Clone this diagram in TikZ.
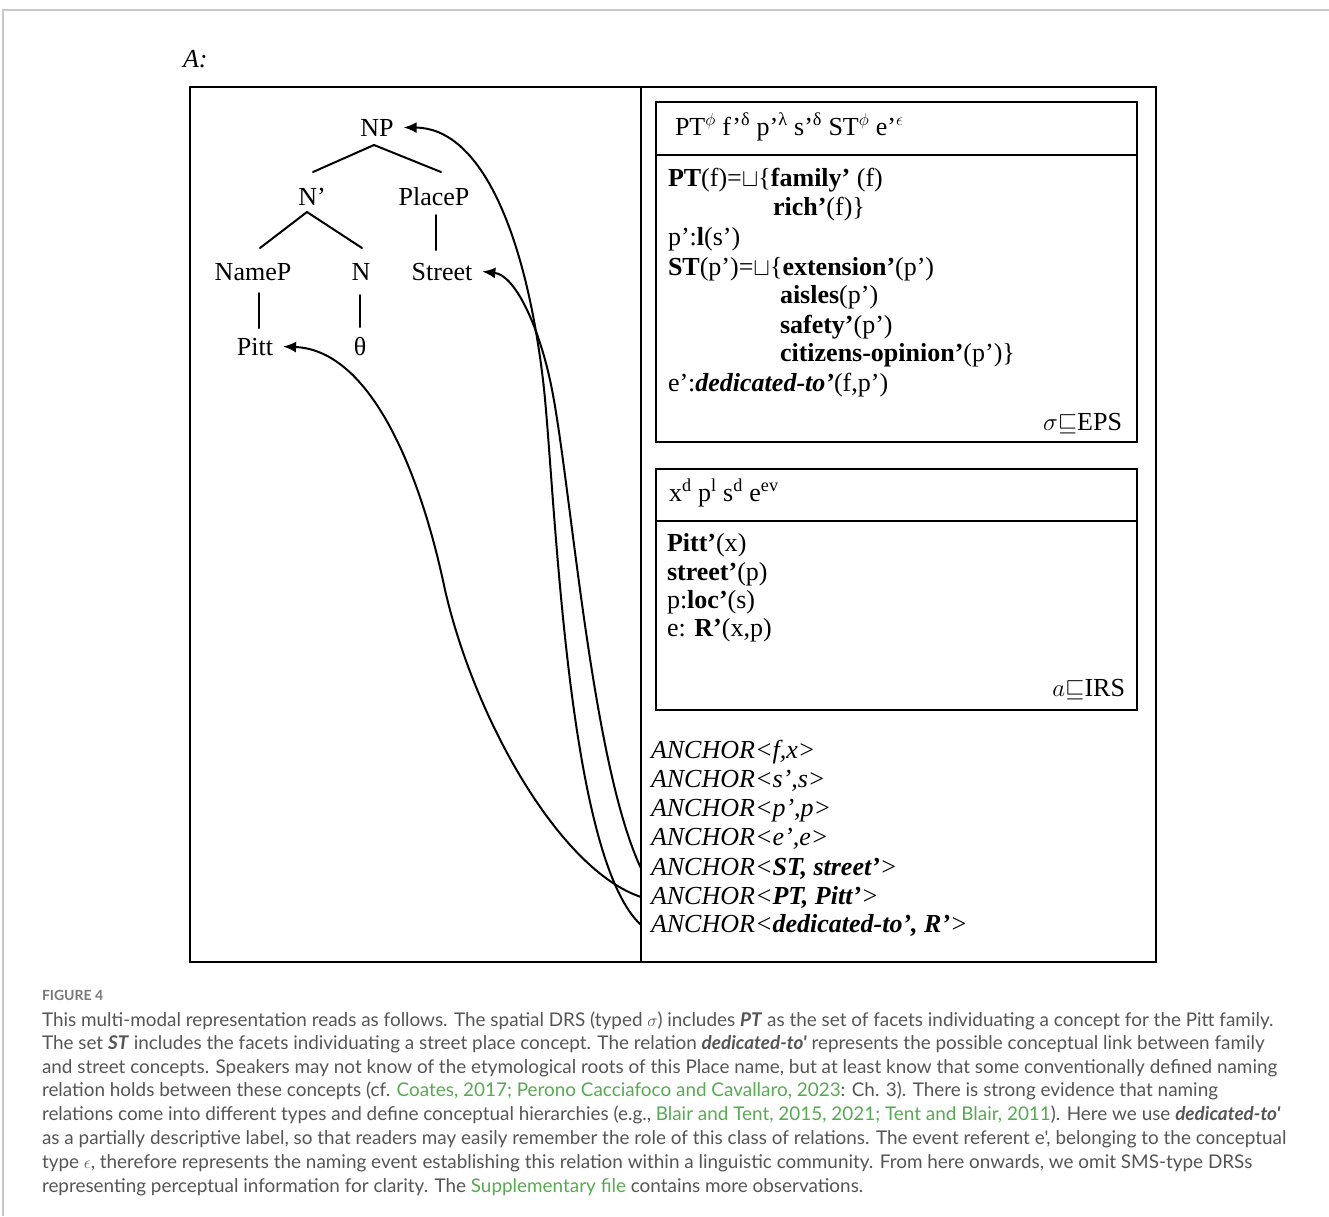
\documentclass[tikz,border=0pt]{standalone}
\usepackage{fontspec}
\setmainfont{Liberation Serif}
\newfontfamily\capfont{Lato}
\usetikzlibrary{arrows.meta}
\definecolor{capgray}{RGB}{85,85,85}
\definecolor{figgray}{RGB}{120,120,120}
\definecolor{linkgreen}{RGB}{86,170,80}
\definecolor{framegray}{RGB}{200,200,200}

\begin{document}
\begin{tikzpicture}[x=1pt,y=-1pt,
  every node/.style={inner sep=0pt,outer sep=0pt},
  drs/.style={font=\fontsize{26}{29}\selectfont,anchor=base west},
  drsr/.style={font=\fontsize{26}{29}\selectfont,anchor=base east},
  anchorline/.style={font=\fontsize{26}{29}\selectfont\itshape,anchor=base west},
  treelabel/.style={font=\fontsize{26}{29}\selectfont,anchor=base,inner xsep=10pt},
  boxline/.style={line width=2.4pt},
  branch/.style={line width=2pt,line cap=round},
  link/.style={line width=2pt,-{Latex[length=13pt,width=11pt]}},
  capline/.style={font=\capfont\fontsize{18.9}{24}\selectfont,text=capgray,anchor=base west},
]
\useasboundingbox (0,0) rectangle (1329,1216);

% page frame
\draw[framegray,line width=1.5pt] (3,1216) -- (3,10) -- (1329,10);

\node[anchorline] (panel) at (183,67) {A:};

% outer frame and divider
\draw[boxline] (190,87) rectangle (1156,962);
\draw[boxline] (641,87) -- (641,962);

% EPS box
\draw[boxline] (656,102) rectangle (1137,442);
\draw[boxline] (656,155) -- (1137,155);
\node[drs] (epshead) at (675,135) {PT\textsuperscript{$\phi$} f'\textsuperscript{δ} p'\textsuperscript{λ} s'\textsuperscript{δ} ST\textsuperscript{$\phi$} e'\textsuperscript{$\epsilon$}};
\node[drs] (eps1) at (668,186) {\textbf{PT}(f)=$\sqcup$\{\textbf{family'} (f)};
\node[drs] (eps2) at (773,215) {\textbf{rich'}(f)\}};
\node[drs] (eps3) at (668,245) {p':\textbf{l}(s')};
\node[drs] (eps4) at (668,275) {\textbf{ST}(p')=$\sqcup$\{\textbf{extension'}(p')};
\node[drs] (eps5) at (780,303) {\textbf{aisles}(p')};
\node[drs] (eps6) at (780,333) {\textbf{safety'}(p')};
\node[drs] (eps7) at (780,361) {\textbf{citizens-opinion'}(p')\}};
\node[drs] (eps8) at (668,391) {e':\textbf{\textit{dedicated-to'}}(f,p')};
\node[drsr] (epstype) at (1122,430) {$\sigma{\sqsubseteq}$EPS};

% IRS box
\draw[boxline] (656,469) rectangle (1137,710);
\draw[boxline] (656,521) -- (1137,521);
\node[drs] (irshead) at (669,501) {x\textsuperscript{d} p\textsuperscript{l} s\textsuperscript{d} e\textsuperscript{ev}};
\node[drs] (irs1) at (667,551) {\textbf{Pitt'}(x)};
\node[drs] (irs2) at (667,580) {\textbf{street'}(p)};
\node[drs] (irs3) at (667,608) {p:\textbf{loc'}(s)};
\node[drs] (irs4) at (667,636) {e: \textbf{R'}(x,p)};
\node[drsr] (irstype) at (1125,696) {$a{\sqsubseteq}$IRS};

% anchors
\node[anchorline] (anFX) at (651,758) {ANCHOR<f,x>};
\node[anchorline] (anSS) at (651,787) {ANCHOR<s',s>};
\node[anchorline] (anPP) at (651,816) {ANCHOR<p',p>};
\node[anchorline] (anEE) at (651,845) {ANCHOR<e',e>};
\node[anchorline] (anST) at (651,875) {ANCHOR<\textbf{ST, street'}>};
\node[anchorline] (anPT) at (651,904) {ANCHOR<\textbf{PT, Pitt'}>};
\node[anchorline] (anDT) at (651,932) {ANCHOR<\textbf{dedicated-to', R'}>};

% syntactic tree
\node[treelabel] (NP) at (377,136) {NP};
\node[treelabel] (Nbar) at (312,205) {N'};
\node[treelabel] (PlaceP) at (434,205) {PlaceP};
\node[treelabel] (NameP) at (253,280) {NameP};
\node[treelabel] (N) at (361,280) {N};
\node[treelabel] (Street) at (442,280) {Street};
\node[treelabel] (Pitt) at (255,355) {Pitt};
\node[treelabel] (theta) at (360,355) {θ};

\draw[branch] ([xshift=-3pt,yshift=-9pt]NP.base) -- ([xshift=1pt,yshift=33pt]Nbar.base);
\draw[branch] ([xshift=-3pt,yshift=-9pt]NP.base) -- ([xshift=7pt,yshift=33pt]PlaceP.base);
\draw[branch] ([xshift=-5pt,yshift=-7pt]Nbar.base) -- ([xshift=7pt,yshift=32pt]NameP.base);
\draw[branch] ([xshift=-5pt,yshift=-7pt]Nbar.base) -- ([xshift=1pt,yshift=32pt]N.base);
\draw[branch] ([xshift=2pt,yshift=-10pt]PlaceP.base) -- ([xshift=-6pt,yshift=30pt]Street.base);
\draw[branch] ([xshift=6pt,yshift=-13pt]NameP.base) -- ([xshift=4pt,yshift=27pt]Pitt.base);
\draw[branch] ([xshift=-1pt,yshift=-15pt]N.base) -- ([xshift=0pt,yshift=28pt]theta.base);

% anchoring links
\draw[link] ([xshift=-10pt]anDT.west) .. controls (565,855) and (555,480) .. (543,380)
  .. controls (525,230) and (480,128) .. (NP.east);
\draw[link] ([xshift=-10pt]anST.west) .. controls (590,760) and (570,470) .. (550,380)
  .. controls (538,325) and (515,275) .. (Street.east);
\draw[link] ([xshift=-10pt]anPT.west) .. controls (560,870) and (475,720) .. (445,590)
  .. controls (420,470) and (370,350) .. (Pitt.east);

% caption
\node[anchor=base west,font=\capfont\bfseries\fontsize{14}{16}\selectfont,text=figgray] (fig) at (42,1000) {FIGURE 4};
\node[capline] (c1) at (42,1026) {This multi-modal representation reads as follows. The spatial DRS (typed $\sigma$) includes \textbf{\textit{PT}} as the set of facets individuating a concept for the Pitt family.};
\node[capline] (c2) at (42,1049) {The set \textbf{\textit{ST}} includes the facets individuating a street place concept. The relation \textbf{\textit{dedicated-to'}} represents the possible conceptual link between family};
\node[capline] (c3) at (42,1073) {and street concepts. Speakers may not know of the etymological roots of this Place name, but at least know that some conventionally defined naming};
\node[capline] (c4) at (42,1096) {relation holds between these concepts (cf. \textcolor{linkgreen}{Coates, 2017; Perono Cacciafoco and Cavallaro, 2023}: Ch. 3). There is strong evidence that naming};
\node[capline] (c5) at (42,1120) {relations come into different types and define conceptual hierarchies (e.g., \textcolor{linkgreen}{Blair and Tent, 2015, 2021; Tent and Blair, 2011}). Here we use \textbf{\textit{dedicated-to'}}};
\node[capline] (c6) at (42,1144) {as a partially descriptive label, so that readers may easily remember the role of this class of relations. The event referent e', belonging to the conceptual};
\node[capline] (c7) at (42,1168) {type $\epsilon$, therefore represents the naming event establishing this relation within a linguistic community. From here onwards, we omit SMS-type DRSs};
\node[capline] (c8) at (42,1192) {representing perceptual information for clarity. The \textcolor{linkgreen}{Supplementary file} contains more observations.};
\end{tikzpicture}
\end{document}
